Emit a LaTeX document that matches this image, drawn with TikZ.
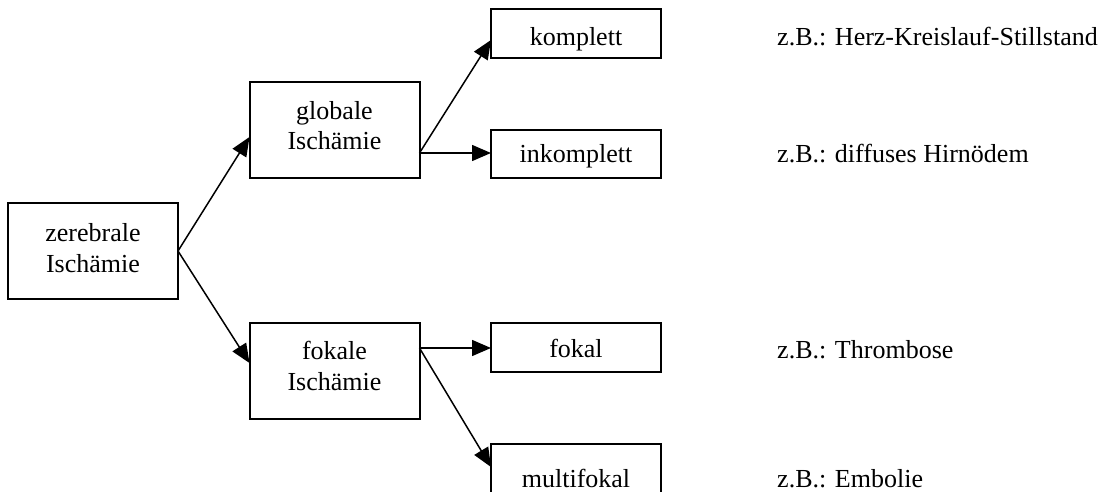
\documentclass[tikz,border=0pt]{standalone}
\usepackage{fontspec}
\setmainfont{Liberation Serif}
\usetikzlibrary{arrows.meta}
\begin{document}
\begin{tikzpicture}[x=1pt,y=1pt,
  every node/.style={font=\fontsize{26}{31}\selectfont},
  bigbox/.style={draw, line width=2pt, rectangle, inner sep=0pt, outer sep=0pt,
    minimum width=170pt, minimum height=96pt, align=center},
  smallbox/.style={draw, line width=2pt, rectangle, inner sep=0pt, outer sep=0pt,
    minimum width=170pt},
  note/.style={anchor=base west, inner sep=0pt},
  conn/.style={line width=1.5pt, -{Triangle[length=19pt,width=16pt]}}
]
\useasboundingbox (0,0) rectangle (1104,-492);
\node[bigbox, text height=69pt, text depth=27pt] (z) at (93,-251) {zerebrale\\Isch\"amie};
\node[bigbox, text height=68pt, text depth=28pt] (g) at (334.5,-130) {globale\\Isch\"amie};
\node[bigbox, text height=67pt, text depth=29pt] (f) at (334.5,-371) {fokale\\Isch\"amie};
\node[smallbox, text height=37pt, text depth=12pt] (k) at (576,-33.5) {komplett};
\node[smallbox, text height=33pt, text depth=15pt] (i) at (576,-154) {inkomplett};
\node[smallbox, text height=34pt, text depth=15pt] (fo) at (576,-347.5) {fokal};
\node[smallbox, text height=43pt, text depth=6pt] (m) at (576,-468.5) {multifokal};
\node[note] (nk) at (777,-46) {z.B.: Herz-Kreislauf-Stillstand};
\node[note] (ni) at (777,-163) {z.B.: diffuses Hirn\"odem};
\node[note] (nf) at (777,-358) {z.B.: Thrombose};
\node[note] (nm) at (777,-487) {z.B.: Embolie};
\draw[conn] (z.east) -- ([yshift=-7pt]g.west);
\draw[conn] (z.east) -- ([yshift=8pt]f.west);
\draw[conn] ([yshift=-23pt]g.east) -- ([yshift=-6.5pt]k.west);
\draw[conn] ([yshift=-23pt]g.east) -- ([yshift=-23pt]i.west |- g.east);
\draw[conn] ([yshift=23pt]f.east) -- ([yshift=23pt]fo.west |- f.east);
\draw[conn] ([yshift=23pt]f.east) -- ([yshift=1.5pt]m.west);
\end{tikzpicture}
\end{document}
